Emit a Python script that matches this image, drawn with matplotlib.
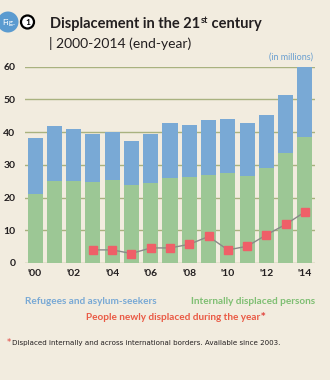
import matplotlib.pyplot as plt
import matplotlib.patches as patches
import numpy as np

years = np.arange(2000, 2015)
year_labels = ["'00", "'02", "'04", "'06", "'08", "'10", "'12", "'14"]
# totals (refugees + IDPs), in millions
total = [38.2, 41.9, 40.8, 39.5, 39.9, 37.3, 39.4, 42.6, 42.0, 43.6, 43.9, 42.7, 45.3, 51.4, 59.8]
idps = [21.2, 25.0, 25.0, 24.7, 25.3, 23.9, 24.4, 26.1, 26.2, 26.9, 27.6, 26.5, 28.9, 33.5, 38.4]
new_years = np.arange(2003, 2015)
new_displaced = [4.0, 4.0, 2.9, 4.6, 4.6, 5.7, 8.1, 4.0, 5.1, 8.6, 11.8, 15.6]

refugees = np.array(total) - np.array(idps)

BG = "#f2ecdf"
BLUE = "#79a9d5"
GREEN = "#9cc795"
RED = "#ef5f68"
GRID = "#a9b27f"
TXT = "#231f20"
FONT = "Lato"

fig = plt.figure(figsize=(3.3, 3.8), dpi=100, facecolor=BG)
ax = fig.add_axes([25/330, (380-263)/380, 290/330, 196.5/380], facecolor=BG)

x = years - 2000
ax.bar(x, idps, width=0.78, color=GREEN, zorder=2)
ax.bar(x, refugees, width=0.78, bottom=idps, color=BLUE, zorder=2)
ax.plot(new_years - 2000, new_displaced, color="#8a8a8a", lw=1.0, zorder=3)
ax.plot(new_years - 2000, new_displaced, ls="none", marker="s", ms=5.2,
        color=RED, zorder=4)

ax.set_xlim(-0.52, 14.52)
ax.set_ylim(0, 60)
ax.set_yticks(range(0, 61, 10))
ax.yaxis.grid(True, color=GRID, lw=1.0, zorder=0)
ax.set_axisbelow(True)
ax.set_xticks(range(0, 15, 2))
ax.set_xticklabels(year_labels)
for s in ax.spines.values():
    s.set_visible(False)
ax.tick_params(length=0, labelsize=7.5, colors=TXT)
ax.tick_params(axis="x", pad=4)
ax.tick_params(axis="y", pad=7)
for lbl in ax.get_yticklabels() + ax.get_xticklabels():
    lbl.set_family(FONT)
    lbl.set_fontweight("bold")

# overlay in pixel coordinates for header and legend text
ov = fig.add_axes([0, 0, 1, 1], facecolor="none")
ov.set_xlim(0, 330)
ov.set_ylim(380, 0)
ov.axis("off")

ov.add_patch(patches.Circle((8, 22), 10.5, facecolor="#5b9bd0", edgecolor="none"))
ov.text(8.5, 22, "Fig.", color="white", fontsize=6, family=FONT, ha="center", va="center")
ov.add_patch(patches.Circle((27.5, 22), 6.5, facecolor="white", edgecolor="black", lw=1.6))
ov.text(27.6, 22.4, "1", color="black", fontsize=6, fontweight="bold",
        family=FONT, ha="center", va="center")

# title with a small raised "st"
title_kw = dict(fontsize=10.5, fontweight="bold", family=FONT, color=TXT, va="baseline")
t1 = ov.text(50, 28, "Displacement in the 21", **title_kw)
fig.canvas.draw()
inv = ov.transData.inverted()
bb = t1.get_window_extent()
x1 = inv.transform((bb.x1, bb.y0))[0]
t2 = ov.text(x1 + 0.5, 23, "st", fontsize=6.5, fontweight="bold", family=FONT,
             color=TXT, va="baseline")
bb = t2.get_window_extent()
x2 = inv.transform((bb.x1, bb.y0))[0]
ov.text(x2, 28, " century", **title_kw)

ov.text(49, 43, "| 2000-2014 (end-year)", fontsize=10, family=FONT, color=TXT, va="center")
ov.text(313, 57, "(in millions)", fontsize=6.5, family=FONT, color="#6a9fd0",
        ha="right", va="center")

# legend as coloured text
ov.text(25, 301, "Refugees and asylum-seekers", fontsize=7.2, fontweight="bold",
        family=FONT, color=BLUE, va="center")
ov.text(315, 301, "Internally displaced persons", fontsize=7.2, fontweight="bold",
        family=FONT, color="#7fbf73", va="center", ha="right")
t3 = ov.text(173, 318, "People newly displaced during the year", fontsize=7.2,
             fontweight="bold", family=FONT, color="#ea5a45", va="center", ha="center")
fig.canvas.draw()
bb = t3.get_window_extent()
x3 = inv.transform((bb.x1, bb.y0))[0]
ov.text(x3 + 0.8, 317, "*", fontsize=6, color="#e0403a", va="center", fontweight="bold")
ov.text(7, 343, "*", fontsize=6, color="#e0403a", va="center")
ov.text(12, 343,
        "Displaced internally and across international borders. Available since 2003.",
        fontsize=5.1, family="Liberation Sans Narrow", color=TXT, va="center")

fig.savefig("out.png", dpi=100, facecolor=BG)
